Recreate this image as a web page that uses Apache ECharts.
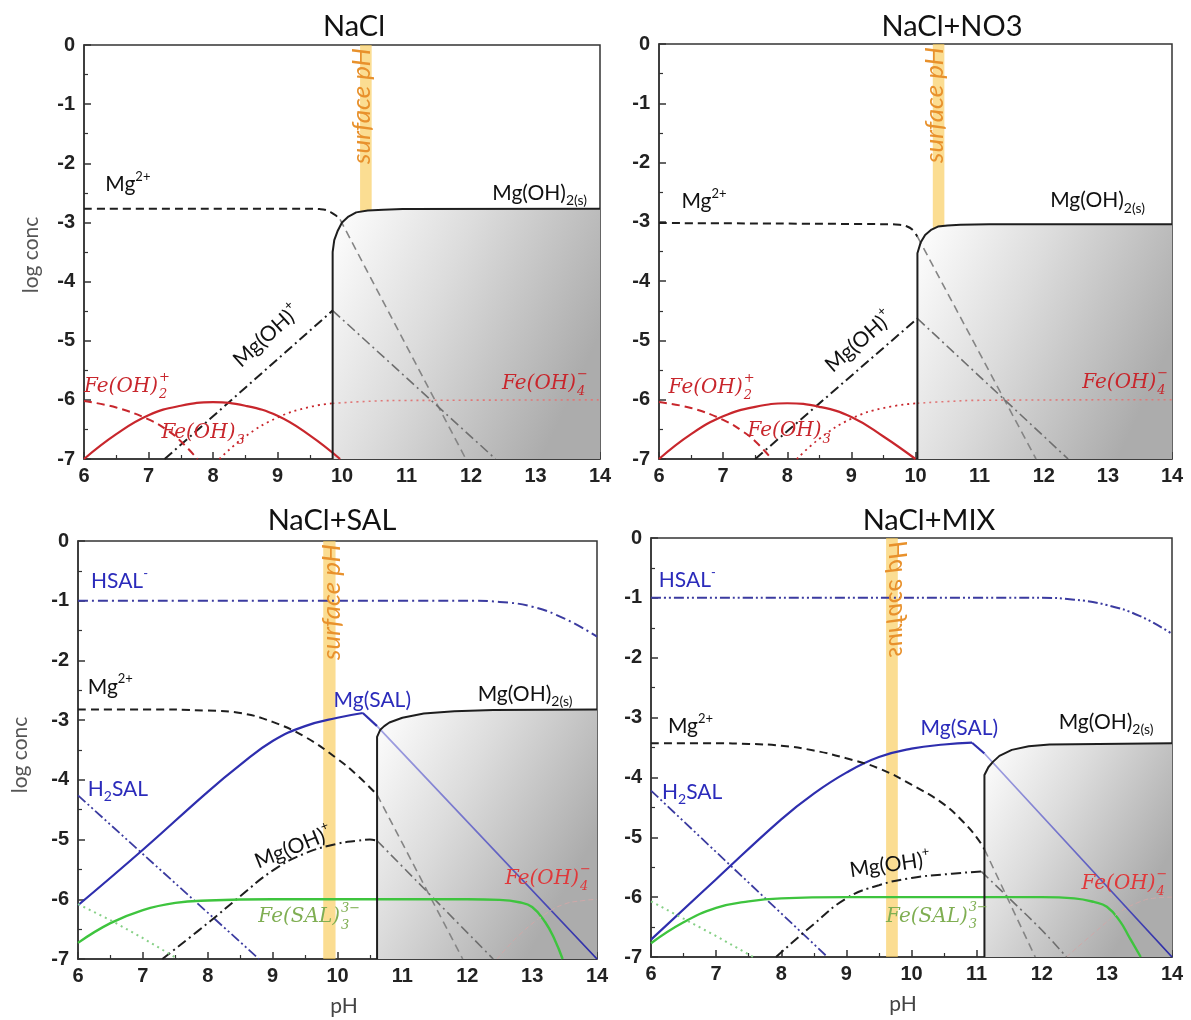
<!DOCTYPE html>
<html><head><meta charset="utf-8">
<script src="https://cdn.jsdelivr.net/npm/echarts@6/dist/echarts.min.js"></script>
<style>html,body{margin:0;padding:0;background:#fff}#c{width:1191px;height:1020px}</style>
</head><body><div id="c"></div>
<script>
// ---------------- DATA ----------------
const panelTitles = ['NaCl', 'NaCl+NO3', 'NaCl+SAL', 'NaCl+MIX'];
const surfaceBands = [[10.28, 10.46], [10.27, 10.45], [9.78, 9.97], [9.61, 9.79]];

// Panel 1: NaCl
const p1_mg2 = [[6,-2.77],[9.5,-2.77],[9.65,-2.775],[9.75,-2.79],[9.83,-2.83],[9.9,-2.88],[9.97,-2.95]];
const p1_mg2_ppt = [[9.97,-2.95],[11.92,-7]];
const p1_mgoh = [[7.25,-7],[9.855,-4.49]];
const p1_mgoh_ppt = [[9.855,-4.49],[12.38,-7]];
const p1_mgoh2s = [[9.855,-7],[9.855,-3.5],[9.88,-3.3],[9.93,-3.15],[10.0,-3.0],[10.1,-2.9],[10.22,-2.83],[10.4,-2.8],[10.64,-2.785],[10.94,-2.775],[14,-2.77]];
const p1_feoh2 = [[6,-6.02],[6.5,-6.13],[7,-6.33],[7.3,-6.52],[7.5,-6.7],[7.76,-7]];
const p1_feoh3 = [[6,-7],[6.5,-6.58],[7,-6.26],[7.5,-6.1],[8,-6.04],[8.5,-6.1],[9,-6.27],[9.5,-6.6],[9.97,-7]];
const p1_feoh4 = [[8.1,-7],[8.5,-6.62],[9,-6.3],[9.5,-6.12],[9.855,-6.06]];
const p1_feoh4_ppt = [[9.855,-6.06],[10.5,-6.02],[11,-6.01],[14,-6.0]];

// Panel 2: NaCl+NO3
const p2_mg2 = [[6,-3.02],[9.6,-3.04],[9.75,-3.05],[9.85,-3.07],[9.95,-3.13],[10.03,-3.25]];
const p2_mg2_ppt = [[10.03,-3.25],[11.88,-7]];
const p2_mgoh = [[7.5,-7],[10.03,-4.63]];
const p2_mgoh_ppt = [[10.03,-4.63],[12.38,-7]];
const p2_mgoh2s = [[10.03,-7],[10.03,-3.53],[10.08,-3.35],[10.15,-3.22],[10.25,-3.13],[10.35,-3.08],[10.5,-3.06],[10.7,-3.05],[11.15,-3.04],[14,-3.04]];
const p2_feoh2 = [[6,-6.04],[6.5,-6.14],[7,-6.34],[7.3,-6.53],[7.5,-6.7],[7.76,-7]];
const p2_feoh3 = [[6,-7],[6.5,-6.58],[7,-6.28],[7.5,-6.12],[8,-6.06],[8.5,-6.12],[9,-6.29],[9.5,-6.62],[10,-7]];
const p2_feoh4 = [[8.15,-7],[8.5,-6.66],[9,-6.32],[9.5,-6.14],[10.03,-6.06]];
const p2_feoh4_ppt = [[10.03,-6.06],[10.5,-6.03],[11,-6.01],[14,-6.0]];

// Panel 3: NaCl+SAL
const p3_hsal = [[6,-1.0],[12,-1.0],[12.5,-1.02],[13,-1.1],[13.5,-1.3],[14,-1.6]];
const p3_h2sal = [[6,-4.26],[8.79,-7]];
const p3_mgsal = [[6,-6.1],[7,-5.17],[8,-4.2],[8.5,-3.75],[9,-3.35],[9.5,-3.1],[10,-2.96],[10.39,-2.88]];
const p3_mgsal_drop = [[10.39,-2.88],[10.61,-3.1]];
const p3_mgsal_ppt = [[10.61,-3.1],[14,-7]];
const p3_mg2 = [[6,-2.82],[7,-2.82],[8,-2.84],[8.5,-2.88],[9,-3.03],[9.5,-3.28],[10,-3.65],[10.3,-3.92],[10.61,-4.25]];
const p3_mg2_ppt = [[10.61,-4.25],[11.93,-7]];
const p3_mgoh = [[7.3,-7],[8,-6.4],[8.5,-5.95],[9,-5.52],[9.5,-5.23],[10,-5.07],[10.3,-5.02],[10.5,-5.0],[10.61,-5.02]];
const p3_mgoh_ppt = [[10.61,-5.02],[12.4,-7]];
const p3_mgoh2s = [[10.61,-7],[10.61,-3.28],[10.66,-3.16],[10.72,-3.1],[10.8,-3.04],[11,-2.96],[11.33,-2.89],[11.8,-2.85],[12.4,-2.83],[14,-2.82]];
const p3_fesal = [[6,-6.73],[6.5,-6.4],[7,-6.18],[7.5,-6.06],[8,-6.02],[9,-6.0],[12,-6.0],[12.5,-6.01],[12.8,-6.05],[13,-6.13],[13.2,-6.38],[13.35,-6.68],[13.47,-7]];
const p3_feoh2 = [[6,-6.08],[6.5,-6.35],[7,-6.65],[7.54,-7]];
const p3_feoh4 = [[12.46,-7],[12.8,-6.6],[13.2,-6.25],[13.5,-6.08],[13.8,-6.02],[14,-6.0]];

// Panel 4: NaCl+MIX
const p4_hsal = [[6,-1.0],[12,-1.0],[12.5,-1.03],[13,-1.12],[13.5,-1.3],[14,-1.6]];
const p4_h2sal = [[6,-4.22],[8.71,-7]];
const p4_mgsal = [[6,-6.71],[7,-5.7],[8,-4.7],[8.5,-4.27],[9,-3.92],[9.5,-3.66],[10,-3.52],[10.5,-3.45],[10.93,-3.42]];
const p4_mgsal_drop = [[10.93,-3.42],[11.12,-3.6]];
const p4_mgsal_ppt = [[11.12,-3.6],[14,-7]];
const p4_mg2 = [[6,-3.43],[7,-3.43],[7.5,-3.44],[8,-3.47],[8.5,-3.55],[9,-3.68],[9.5,-3.85],[10,-4.12],[10.5,-4.45],[10.8,-4.75],[11,-5.0],[11.12,-5.2]];
const p4_mg2_ppt = [[11.12,-5.2],[11.9,-7]];
const p4_mgoh = [[7.92,-7],[8.5,-6.45],[9,-6.02],[9.5,-5.8],[10,-5.68],[10.5,-5.62],[11.07,-5.57]];
const p4_mgoh_ppt = [[11.07,-5.57],[11.5,-6.02],[12,-6.55],[12.38,-7]];
const p4_mgoh2s = [[11.12,-7],[11.12,-3.96],[11.18,-3.83],[11.25,-3.74],[11.35,-3.64],[11.54,-3.54],[11.8,-3.48],[12.12,-3.45],[14,-3.43]];
const p4_fesal = [[6,-6.77],[6.5,-6.42],[7,-6.18],[7.5,-6.07],[8,-6.02],[9,-6.0],[12,-6.0],[12.5,-6.02],[12.8,-6.08],[13,-6.16],[13.2,-6.4],[13.35,-6.68],[13.52,-7]];
const p4_feoh2 = [[6,-6.07],[6.5,-6.36],[7,-6.65],[7.57,-7]];
const p4_feoh4 = [[12.38,-7],[12.8,-6.6],[13.2,-6.25],[13.5,-6.08],[13.7,-6.02],[14,-6.0]];

// ---------------- STYLE ----------------
const FONT = 'Lato, "Noto Sans", sans-serif';
const MATH = '"DejaVu Serif", serif';
const BLACK = '#1e1e1e', GRAYL = '#858585', RED = '#c8262c', REDL = '#e07878';
const BLUE = '#2e2eae', BLUED = '#3b3ba0', GREEN = '#3ec43e', GREENL = '#86d086', PINK = '#cfa8a8';
const DASH = [8,5], DASHDOT = [10,4,2,4], DASHDOTDOT = [10,3,2,3,2,3], DOT = [2,4];

const grids = [
  {left:84, top:45, width:516, height:414},
  {left:659, top:44, width:513, height:415},
  {left:78, top:541, width:519, height:418},
  {left:651, top:538, width:521, height:419}
];

const chart = echarts.init(document.getElementById('c'), null, {renderer:'canvas'});

const TICKFONT = {fontSize:20, fontWeight:'bold', fontFamily:'"Liberation Sans", Arial, sans-serif', color:'#222'};
function xAx(gi){
  return {gridIndex:gi, type:'value', min:6, max:14, interval:1,
    axisLine:{show:true, onZero:false, lineStyle:{color:'#333', width:1.5}},
    axisTick:{show:true, inside:true, length:7, lineStyle:{color:'#333', width:1.5}},
    minorTick:{show:true, splitNumber:2, length:4, lineStyle:{color:'#333', width:1.2}},
    splitLine:{show:false}, minorSplitLine:{show:false},
    axisLabel:Object.assign({margin:7}, TICKFONT)
  };
}
function yAx(gi){
  return {gridIndex:gi, type:'value', min:-7, max:0, interval:1,
    axisLine:{show:true, onZero:false, lineStyle:{color:'#333', width:1.5}},
    axisTick:{show:true, inside:true, length:7, lineStyle:{color:'#333', width:1.5}},
    minorTick:{show:true, splitNumber:2, length:4, lineStyle:{color:'#333', width:1.2}},
    splitLine:{show:false}, minorSplitLine:{show:false},
    axisLabel:Object.assign({margin:9}, TICKFONT)
  };
}
function S(gi, data, color, dash, width, extra){
  return Object.assign({type:'line', xAxisIndex:gi, yAxisIndex:gi, data, symbol:'none', silent:true,
    animation:false, z:5, lineStyle:{color, width: width||2, type: dash||'solid'}}, extra||{});
}
const SM = {smooth:0.45};
function areaSeries(gi, data){
  return {type:'line', xAxisIndex:gi, yAxisIndex:gi, data, symbol:'none', silent:true, animation:false, z:1,
    lineStyle:{width:0},
    areaStyle:{origin:'start', opacity:1, color:new echarts.graphic.LinearGradient(0,0,1,0.5,[
      {offset:0,color:'#ffffff'},{offset:0.45,color:'#dcdcdc'},{offset:1,color:'#acacac'}])}};
}
function bandSeries(gi){
  const b = surfaceBands[gi];
  return {type:'line', xAxisIndex:gi, yAxisIndex:gi, data:[[b[0],-7]], symbol:'none', silent:true, animation:false, z:3,
    lineStyle:{opacity:0},
    markArea:{silent:true, itemStyle:{color:'rgba(249,205,95,0.68)'}, data:[[{xAxis:b[0]},{xAxis:b[1]}]]}};
}
function blueFade(){
  return new echarts.graphic.LinearGradient(0,0,1,0,[{offset:0,color:'#a6a6e4'},{offset:1,color:'#2a2aa6'}]);
}

const series = [];
// Panel 1 & 2
[[p1_mg2,p1_mg2_ppt,p1_mgoh,p1_mgoh_ppt,p1_mgoh2s,p1_feoh2,p1_feoh3,p1_feoh4,p1_feoh4_ppt],
 [p2_mg2,p2_mg2_ppt,p2_mgoh,p2_mgoh_ppt,p2_mgoh2s,p2_feoh2,p2_feoh3,p2_feoh4,p2_feoh4_ppt]].forEach((d,gi)=>{
  series.push(areaSeries(gi, d[4]));
  series.push(bandSeries(gi));
  series.push(S(gi, d[0], BLACK, DASH, 2, SM));
  series.push(S(gi, d[1], GRAYL, DASH, 1.6));
  series.push(S(gi, d[2], BLACK, DASHDOT, 2));
  series.push(S(gi, d[3], '#6e6e6e', DASHDOT, 1.6));
  series.push(S(gi, d[4], BLACK, 'solid', 2, {z:6}));
  series.push(S(gi, d[5], RED, DASH, 2, SM));
  series.push(S(gi, d[6], RED, 'solid', 2.2, SM));
  series.push(S(gi, d[7], RED, DOT, 1.8, SM));
  series.push(S(gi, d[8], REDL, DOT, 1.6, SM));
});
// Panel 3 & 4
[[p3_hsal,p3_h2sal,p3_mgsal,p3_mgsal_ppt,p3_mg2,p3_mg2_ppt,p3_mgoh,p3_mgoh_ppt,p3_mgoh2s,p3_fesal,p3_feoh2,p3_feoh4,DASHDOT,p3_mgsal_drop],
 [p4_hsal,p4_h2sal,p4_mgsal,p4_mgsal_ppt,p4_mg2,p4_mg2_ppt,p4_mgoh,p4_mgoh_ppt,p4_mgoh2s,p4_fesal,p4_feoh2,p4_feoh4,DASHDOTDOT,p4_mgsal_drop]].forEach((d,k)=>{
  const gi = k+2;
  series.push(areaSeries(gi, d[8]));
  series.push(bandSeries(gi));
  series.push(S(gi, d[0], BLUED, d[12], 2, SM));
  series.push(S(gi, d[1], BLUED, DASHDOTDOT, 1.8));
  series.push(S(gi, d[2], BLUE, 'solid', 2.2, SM));
  series.push(S(gi, d[13], BLUE, 'solid', 2.2));
  series.push(S(gi, d[3], blueFade(), 'solid', 1.8));
  series.push(S(gi, d[4], BLACK, DASH, 2, SM));
  series.push(S(gi, d[5], GRAYL, DASH, 1.6));
  series.push(S(gi, d[6], BLACK, DASHDOT, 2, SM));
  series.push(S(gi, d[7], '#6e6e6e', DASHDOT, 1.6, SM));
  series.push(S(gi, d[8], BLACK, 'solid', 2, {z:6}));
  series.push(S(gi, d[9], GREEN, 'solid', 2.4, SM));
  series.push(S(gi, d[10], GREENL, DOT, 2));
  series.push(S(gi, d[11], PINK, [5,3], 1, SM));
});

const titleCenters = [[349,7],[947,7],[327,501],[924,501]];
chart.setOption({
  backgroundColor:'#ffffff',
  animation:false,
  title: panelTitles.map((t,i)=>({text:t, left:titleCenters[i][0], top:titleCenters[i][1], textAlign:'center',
    textStyle:{fontSize:29, fontWeight:'normal', fontFamily:FONT, color:'#111'}})),
  grid: grids.map(g=>Object.assign({show:true, borderColor:'#333', borderWidth:1.5, backgroundColor:'transparent'}, g)),
  xAxis: [0,1,2,3].map(xAx),
  yAxis: [0,1,2,3].map(yAx),
  series
});

// ---------------- LABELS ----------------
const canvas = document.createElement('canvas');
const ctx = canvas.getContext('2d');
function measure(text, font){ ctx.font = font; return ctx.measureText(text).width; }

function rich(color){
  return {
    a:{fontSize:21, fontFamily:FONT, fill:color, lineHeight:29},
    sup:{fontSize:13, fontFamily:FONT, fill:color, lineHeight:13, verticalAlign:'top'},
    sub:{fontSize:14, fontFamily:FONT, fill:color, lineHeight:13, verticalAlign:'bottom'}
  };
}
const RED2 = '#e0383a', OLIVE = '#7fae52', LBL = '#111', BLBL = '#2b2bbb';
const labelSpecs = [
  {g:0, t:'rich', s:'{a|Mg}{sup|2+}', x:6.33, y:-2.36, c:LBL},
  {g:0, t:'rich', s:'{a|Mg(OH)}{sub|2(s)}', x:12.33, y:-2.5, c:LBL},
  {g:0, t:'rich', s:'{a|Mg(OH)}{sup|+}', x:8.83, y:-4.92, c:LBL, rot:42},
  {g:0, t:'math', base:'Fe(OH)', sub:'2', sup:'+', x:6.0, y:-5.78, c:RED},
  {g:0, t:'math', base:'Fe(OH)', sub:'3', x:7.2, y:-6.56, c:RED},
  {g:0, t:'math', base:'Fe(OH)', sub:'4', sup:'−', x:12.48, y:-5.72, c:RED},

  {g:1, t:'rich', s:'{a|Mg}{sup|2+}', x:6.35, y:-2.66, c:LBL},
  {g:1, t:'rich', s:'{a|Mg(OH)}{sub|2(s)}', x:12.1, y:-2.64, c:LBL},
  {g:1, t:'rich', s:'{a|Mg(OH)}{sup|+}', x:9.12, y:-5.02, c:LBL, rot:41},
  {g:1, t:'math', base:'Fe(OH)', sub:'2', sup:'+', x:6.15, y:-5.8, c:RED},
  {g:1, t:'math', base:'Fe(OH)', sub:'3', x:7.38, y:-6.53, c:RED},
  {g:1, t:'math', base:'Fe(OH)', sub:'4', sup:'−', x:12.6, y:-5.72, c:RED},

  {g:2, t:'rich', s:'{a|HSAL}{sup|-}', x:6.2, y:-0.68, c:BLBL},
  {g:2, t:'rich', s:'{a|Mg}{sup|2+}', x:6.15, y:-2.45, c:LBL},
  {g:2, t:'rich', s:'{a|Mg(SAL)}', x:9.94, y:-2.67, c:BLBL},
  {g:2, t:'rich', s:'{a|Mg(OH)}{sub|2(s)}', x:12.16, y:-2.56, c:LBL},
  {g:2, t:'rich', s:'{a|H}{sub|2}{a|SAL}', x:6.15, y:-4.15, c:BLBL},
  {g:2, t:'rich', s:'{a|Mg(OH)}{sup|+}', x:9.32, y:-5.13, c:LBL, rot:22},
  {g:2, t:'math', base:'Fe(OH)', sub:'4', sup:'−', x:12.58, y:-5.66, c:RED2},
  {g:2, t:'math', base:'Fe(SAL)', sub:'3', sup:'3−', x:8.78, y:-6.3, c:OLIVE},

  {g:3, t:'rich', s:'{a|HSAL}{sup|-}', x:6.12, y:-0.71, c:BLBL},
  {g:3, t:'rich', s:'{a|Mg}{sup|2+}', x:6.26, y:-3.15, c:LBL},
  {g:3, t:'rich', s:'{a|Mg(SAL)}', x:10.14, y:-3.18, c:BLBL},
  {g:3, t:'rich', s:'{a|Mg(OH)}{sub|2(s)}', x:12.26, y:-3.07, c:LBL},
  {g:3, t:'rich', s:'{a|H}{sub|2}{a|SAL}', x:6.17, y:-4.24, c:BLBL},
  {g:3, t:'rich', s:'{a|Mg(OH)}{sup|+}', x:9.67, y:-5.46, c:LBL, rot:8},
  {g:3, t:'math', base:'Fe(OH)', sub:'4', sup:'−', x:12.61, y:-5.77, c:RED2},
  {g:3, t:'math', base:'Fe(SAL)', sub:'3', sup:'3−', x:9.61, y:-6.32, c:OLIVE}
];

const graphics = [];
labelSpecs.forEach(sp=>{
  const p = chart.convertToPixel({gridIndex:sp.g}, [sp.x, sp.y]);
  if (sp.t === 'rich') {
    const el = {type:'text', x:p[0], y:p[1], z:100, silent:true,
      style:{text:sp.s, rich:rich(sp.c), align: sp.rot!==undefined?'center':'left', verticalAlign:'middle',
        textAlign: sp.rot!==undefined?'center':'left', textVerticalAlign:'middle'}};
    if (sp.rot !== undefined) el.rotation = sp.rot*Math.PI/180;
    graphics.push(el);
  } else {
    const size = 20;
    const font = 'italic ' + size + 'px ' + MATH;
    const w = measure(sp.base, font);
    graphics.push({type:'text', x:p[0], y:p[1], z:100, silent:true,
      style:{text:sp.base, font, fill:sp.c, align:'left', verticalAlign:'middle', textAlign:'left', textVerticalAlign:'middle'}});
    const sfont = 'italic 13px ' + MATH;
    if (sp.sub) graphics.push({type:'text', x:p[0]+w+1, y:p[1]+8, z:100, silent:true,
      style:{text:sp.sub, font:sfont, fill:sp.c, align:'left', verticalAlign:'middle', textAlign:'left', textVerticalAlign:'middle'}});
    if (sp.sup) graphics.push({type:'text', x:p[0]+w+1, y:p[1]-9, z:100, silent:true,
      style:{text:sp.sup, font:sfont, fill:sp.c, align:'left', verticalAlign:'middle', textAlign:'left', textVerticalAlign:'middle'}});
  }
});

// surface pH labels
const spOffsets = [-4, -4, 2, 5];
surfaceBands.forEach((b,gi)=>{
  const p = chart.convertToPixel({gridIndex:gi}, [(b[0]+b[1])/2, 0]);
  const el = {type:'text', x:p[0]+spOffsets[gi], y:p[1]+3, z:100, silent:true, rotation:Math.PI/2,
    style:{text:'surface pH', font:'italic 26px ' + FONT, fill:'#E8912C', align:'right', verticalAlign:'middle',
      textAlign:'right', textVerticalAlign:'middle'}};
  if (gi === 3) el.scaleY = -1;
  graphics.push(el);
});

// axis names
const axisFont = '21px ' + FONT;
[[31,255],[20,755]].forEach(c=>{
  graphics.push({type:'text', x:c[0], y:c[1], rotation:Math.PI/2, z:100, silent:true,
    style:{text:'log conc', font:axisFont, fill:'#555', align:'center', verticalAlign:'middle', textAlign:'center', textVerticalAlign:'middle'}});
});
[[344,1006],[903,1004]].forEach(c=>{
  graphics.push({type:'text', x:c[0], y:c[1], z:100, silent:true,
    style:{text:'pH', font:axisFont, fill:'#444', align:'center', verticalAlign:'middle', textAlign:'center', textVerticalAlign:'middle'}});
});

chart.setOption({graphic: graphics});
</script>
</body></html>
